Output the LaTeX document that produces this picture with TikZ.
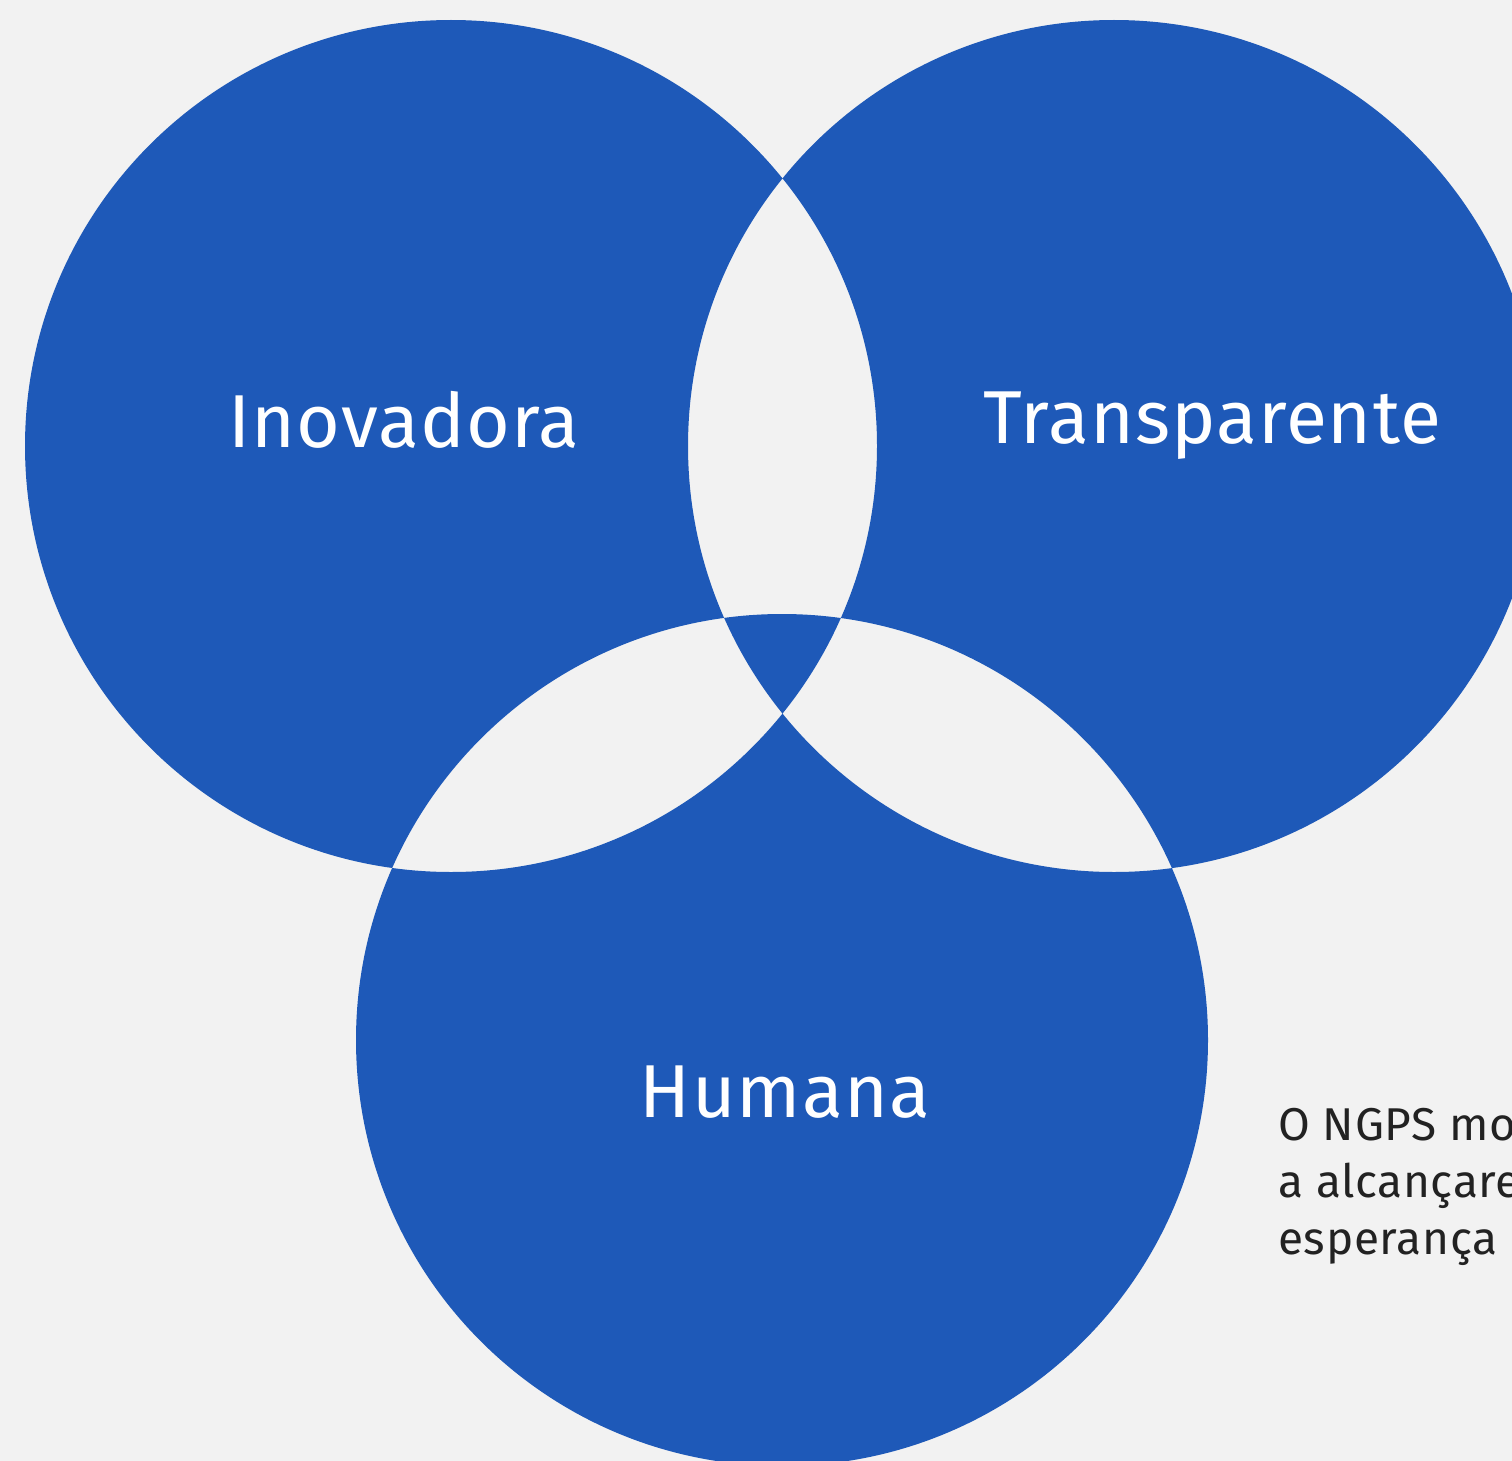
\documentclass[tikz,border=0pt]{standalone}
\usepackage{fontspec}
\setmainfont{Fira Sans}
\definecolor{bg}{HTML}{F2F2F2}
\definecolor{vennblue}{HTML}{1E59B8}
\definecolor{bodytext}{HTML}{222222}
\begin{document}
\begin{tikzpicture}[x=1pt,y=-1pt,
  label/.style={text=white,font=\fontsize{75}{88}\selectfont\addfontfeatures{LetterSpace=1.5},inner sep=0pt,anchor=base},
  body/.style={text=bodytext,font=\fontsize{46}{57}\selectfont\addfontfeatures{LetterSpace=1.5},inner sep=0pt,anchor=base west}]
\useasboundingbox (0,0) rectangle (1512,1461);
\clip (0,0) rectangle (1512,1461);
\fill[bg] (0,0) rectangle (1512,1461);
\fill[vennblue,even odd rule] (451,446) circle (426) (1114,446) circle (426) (782,1040) circle (426);
\node[label] (ino) at (404,447) {Inovadora};
\node[label] (tra) at (1212,443) {Transparente};
\node[label] (hum) at (785,1117) {Humana};
\node[body] (l1) at (1278,1140) {O NGPS mo};
\node[body] (l2) at (1278,1197) {a alcançare};
\node[body] (l3) at (1278,1254) {esperança};
\end{tikzpicture}
\end{document}
